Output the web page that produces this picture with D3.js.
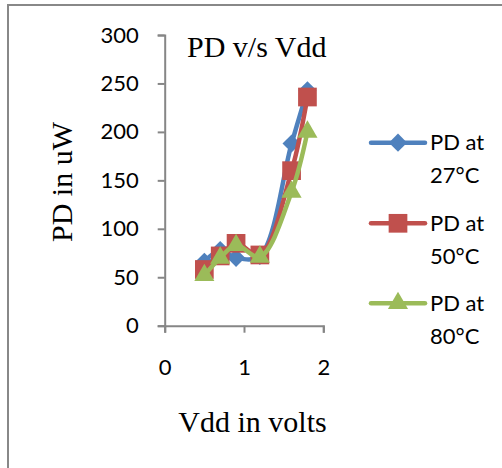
<!DOCTYPE html>
<html>
<head>
<meta charset="utf-8">
<script src="https://cdn.jsdelivr.net/npm/d3@7"></script>
<style>
  body { margin: 0; background: #fff; }
</style>
</head>
<body>
<div id="chart"></div>
<script>
// data
const vdd = [0.5, 0.7, 0.9, 1.2, 1.6, 1.8]
const pd27 = [66, 78, 70, 72, 188, 243]
const pd50 = [58, 72, 85, 73, 160, 236]
const pd80 = [52, 70, 83, 71, 138, 200]
const seriesNames = ["PD at 27°C", "PD at 50°C", "PD at 80°C"]
const yTicks = [0, 50, 100, 150, 200, 250, 300]
const xTicks = [0, 1, 2]

const W = 502, H = 468
const SANS = "Lato, 'Open Sans', sans-serif"
const SERIF = "'Liberation Serif', 'DejaVu Serif', serif"
const colors = ["#4F81BD", "#C0504D", "#9BBB59"]
// diamond = square turned 45 degrees
const symbols = [d3.symbolSquare, d3.symbolSquare, d3.symbolTriangle]
const markerSizes = [165, 350, 175]
const markerRot = [45, 0, 0]

const svg = d3.select("#chart").append("svg")
  .attr("width", W)
  .attr("height", H)

// chart frame
svg.append("rect")
  .attr("x", 8).attr("y", 5)
  .attr("width", 600).attr("height", 600)
  .attr("fill", "#fff")
  .attr("stroke", "#888")
  .attr("stroke-width", 2)

const x = d3.scaleLinear().domain([0, 2]).range([164.7, 323.3])
const y = d3.scaleLinear().domain([0, 300]).range([325.7, 35])

// Y axis
const yAxis = svg.append("g")
  .attr("transform", `translate(${x(0)}, 0)`)
  .call(d3.axisLeft(y).tickValues(yTicks).tickSize(7).tickPadding(19))
yAxis.select(".domain").attr("stroke", "#868686").attr("stroke-width", 2)
yAxis.selectAll(".tick line").attr("stroke", "#868686").attr("stroke-width", 2)
yAxis.selectAll("text")
  .attr("font-family", SANS).attr("font-size", "22px").attr("fill", "#000")

// X axis
const xAxis = svg.append("g")
  .attr("transform", `translate(0, ${y(0)})`)
  .call(d3.axisBottom(x).tickValues(xTicks).tickSize(7).tickPadding(27).tickFormat(d3.format("d")))
xAxis.select(".domain").attr("stroke", "#868686").attr("stroke-width", 2)
xAxis.selectAll(".tick line").attr("stroke", "#868686").attr("stroke-width", 2)
xAxis.selectAll("text")
  .attr("font-family", SANS).attr("font-size", "22px").attr("fill", "#000")

// Title
svg.append("text")
  .attr("x", 187).attr("y", 56.7)
  .attr("font-family", SERIF).attr("font-size", "30px")
  .text("PD v/s Vdd")

// Axis labels
svg.append("text")
  .attr("transform", "translate(71.7, 182) rotate(-90)")
  .attr("text-anchor", "middle")
  .attr("font-family", SERIF).attr("font-size", "30px")
  .text("PD in uW")

svg.append("text")
  .attr("x", 252.5).attr("y", 431.7)
  .attr("text-anchor", "middle")
  .attr("font-family", SERIF).attr("font-size", "30px")
  .text("Vdd in volts")

// Series
const allSeries = [pd27, pd50, pd80]
const line = d3.line()
  .x(d => x(d[0]))
  .y(d => y(d[1]))
  .curve(d3.curveCatmullRom)

allSeries.forEach((vals, i) => {
  const pts = vdd.map((v, j) => [v, vals[j]])
  svg.append("path")
    .datum(pts)
    .attr("d", line)
    .attr("fill", "none")
    .attr("stroke", colors[i])
    .attr("stroke-width", 4.5)
    .attr("stroke-linejoin", "round")
    .attr("stroke-linecap", "round")

  svg.selectAll(".m" + i)
    .data(pts)
    .enter().append("path")
    .attr("class", "m" + i)
    .attr("transform", d => `translate(${x(d[0])}, ${y(d[1])}) rotate(${markerRot[i]})`)
    .attr("d", d3.symbol().type(symbols[i]).size(markerSizes[i]))
    .attr("fill", colors[i])
})

// Legend
const legendY = [142.7, 223.3, 303.3]
seriesNames.forEach((name, i) => {
  const g = svg.append("g").attr("transform", `translate(0, ${legendY[i]})`)
  g.append("line")
    .attr("x1", 371).attr("x2", 425)
    .attr("y1", 0).attr("y2", 0)
    .attr("stroke", colors[i])
    .attr("stroke-width", 4.5)
    .attr("stroke-linecap", "round")
  g.append("path")
    .attr("transform", `translate(398, 0) rotate(${markerRot[i]})`)
    .attr("d", d3.symbol().type(symbols[i]).size(markerSizes[i]))
    .attr("fill", colors[i])
  const parts = name.split(" at ")
  g.append("text")
    .attr("x", 430).attr("y", 7.5)
    .attr("font-family", SANS).attr("font-size", "22px")
    .text(parts[0] + " at")
  g.append("text")
    .attr("x", 430).attr("y", 40.6)
    .attr("font-family", SANS).attr("font-size", "22px")
    .text(parts[1])
})
</script>
</body>
</html>
